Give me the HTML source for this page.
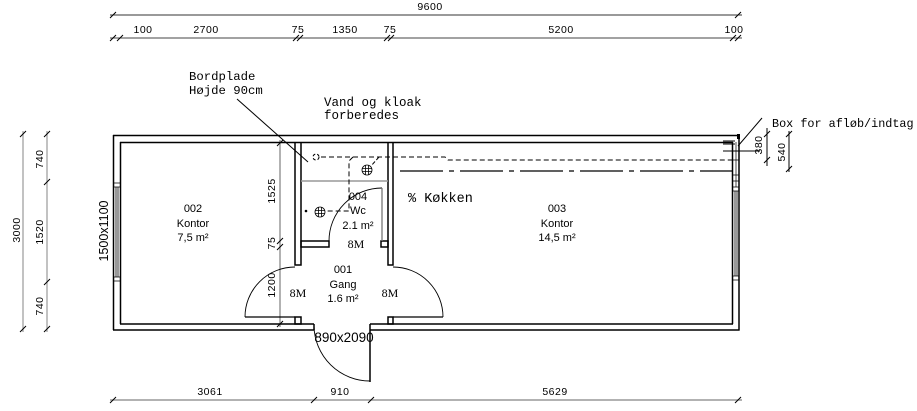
<!DOCTYPE html>
<html><head><meta charset="utf-8"><style>
html,body{margin:0;padding:0;background:#fff;}
svg{display:block;}
.s{font-family:"Liberation Sans",sans-serif;}
.m{font-family:"Liberation Mono",monospace;}
.r{font-family:"Liberation Serif",serif;}
</style></head><body>
<svg width="917" height="411" viewBox="0 0 917 411" xmlns="http://www.w3.org/2000/svg">
<g fill="none" stroke="#000" stroke-width="1">
<!-- top dims -->
<line x1="110" y1="15" x2="742" y2="15" stroke="#333"/>
<line x1="110" y1="38" x2="742" y2="38" stroke="#444"/>
<g stroke="#000">
<path d="M110,18 l6,-6 M735,18 l6,-6"/>
<path d="M110,41 l6,-6 M117,41 l6,-6 M293,41 l6,-6 M297,41 l6,-6 M384,41 l6,-6 M388,41 l6,-6 M730,41 l6,-6 M735,41 l6,-6"/>
</g>
<!-- bottom dim -->
<line x1="110" y1="400" x2="742" y2="400" stroke="#999" stroke-width="1.5"/>
<path d="M110,403 l6,-6 M311,403 l6,-6 M368,403 l6,-6 M735,403 l6,-6"/>
<!-- left dims -->
<line x1="23" y1="131" x2="23" y2="332" stroke="#999" stroke-width="1.2"/>
<line x1="47" y1="131" x2="47" y2="332" stroke="#999" stroke-width="1.2"/>
<path d="M20,137 l6,-6 M20,332 l6,-6 M44,137 l6,-6 M44,185 l6,-6 M44,285 l6,-6 M44,332 l6,-6"/>
<!-- interior dim -->
<line x1="280" y1="140" x2="280" y2="327" stroke="#999" stroke-width="1.5"/>
<path d="M277,146 l6,-6 M277,244 l6,-6 M277,250 l6,-6 M277,327 l6,-6"/>
<!-- right dims -->
<line x1="767" y1="128" x2="767" y2="166"/>
<line x1="789" y1="131" x2="789" y2="172"/>
<path d="M764,137 l6,-6 M764,163 l6,-6 M786,137 l6,-6 M786,172 l6,-6"/>
<line x1="723" y1="141" x2="735" y2="141"/>
<line x1="723" y1="144" x2="735" y2="144"/>
<line x1="723" y1="151" x2="760" y2="151"/>

<!-- outer walls -->
<g stroke-width="1.5">
<line x1="113" y1="135.5" x2="740" y2="135.5"/>
<line x1="120" y1="142.5" x2="733" y2="142.5"/>
<line x1="113.5" y1="135" x2="113.5" y2="330"/>
<line x1="120.5" y1="142" x2="120.5" y2="324"/>
<line x1="739" y1="135" x2="739" y2="330.5"/>
<line x1="732.5" y1="142" x2="732.5" y2="324"/>
<line x1="113" y1="330" x2="314" y2="330"/>
<line x1="370" y1="330" x2="739.5" y2="330"/>
<line x1="120" y1="324" x2="314" y2="324"/>
<line x1="370" y1="324" x2="733" y2="324"/>
<line x1="314" y1="324" x2="314" y2="330"/>
<line x1="370" y1="324" x2="370" y2="382"/>
</g>
<rect x="737" y="134" width="3" height="5" fill="#000" stroke="none"/>
<!-- left window -->
<path d="M113,183 H120 M113,187 H120 M113,277 H120 M113,281 H120" stroke-width="0.8"/>
<path d="M116,187 V277 M118,187 V277" stroke-width="0.8"/>
<!-- right window / box -->
<path d="M733,187 H739 M733,191 H739 M733,276 H739 M733,280 H739" stroke-width="0.8"/>
<path d="M735,191 V276 M737,191 V276" stroke-width="0.8"/>
<path d="M736,142 V187 M733,160 H739 M733,175 H739 M733,181 H739" stroke-width="0.7"/>

<!-- interior walls -->
<g stroke-width="1.5">
<path d="M295,142 V265 H301 V142"/>
<path d="M388,142 V265 H393 V142"/>
<rect x="295" y="317" width="6" height="7"/>
<rect x="388" y="317" width="5" height="7"/>
<rect x="301" y="241" width="28" height="6"/>
<rect x="381" y="241" width="7" height="6"/>
</g>
<line x1="245" y1="317" x2="295" y2="317" stroke-width="1.3"/>
<line x1="393" y1="317" x2="443" y2="317" stroke-width="1.3"/>
<path d="M245,317 A50,50 0 0 1 295,267" stroke-width="0.9"/>
<path d="M443,317 A50,50 0 0 0 393,267" stroke-width="0.9"/>
<path d="M329,241 A53,53 0 0 1 382,188" stroke-width="0.9"/>
<line x1="382" y1="188" x2="382" y2="241" stroke="#777" stroke-width="1.3"/>
<path d="M314,326 A56,56 0 0 0 370,381" stroke-width="0.9"/>
<line x1="301" y1="181" x2="388" y2="181" stroke="#999" stroke-width="1.5"/>

<!-- dashed service lines -->
<circle cx="316" cy="157" r="3" stroke-dasharray="3 2"/>
<path d="M321,157 H445 L448,160 H733" stroke-dasharray="5 3"/>
<path d="M353,157 L349,161 V211 H327" stroke-dasharray="5 3"/>
<path d="M379,157 L371,166" stroke-dasharray="4 2"/>
<path d="M400,171 H733" stroke-dasharray="43 6 5 6" stroke-width="1.2"/>
<!-- drains -->
<g stroke-width="0.8">
<circle cx="367" cy="170" r="5"/>
<path d="M362,168.5 H372 M362,171.5 H372 M365.5,165 V175 M368.5,165 V175"/>
<circle cx="320" cy="212" r="5"/>
<path d="M315,210.5 H325 M315,213.5 H325 M318.5,207 V217 M321.5,207 V217"/>
</g>
<circle cx="306" cy="211" r="0.8" fill="#000"/>
<!-- leaders -->
<line x1="237" y1="99" x2="308" y2="162"/>
<line x1="762" y1="118" x2="738" y2="146"/>
</g>

<!-- text -->
<g class="s" font-size="10.5" fill="#000" text-anchor="middle" letter-spacing="0.5">
<text x="430" y="10">9600</text>
<text x="143" y="33">100</text>
<text x="206" y="33">2700</text>
<text x="298" y="33">75</text>
<text x="345" y="33">1350</text>
<text x="390" y="33">75</text>
<text x="561" y="33">5200</text>
<text x="734" y="33">100</text>
<text x="210" y="395">3061</text>
<text x="340" y="395">910</text>
<text x="555" y="395">5629</text>
<text transform="translate(20,230) rotate(-90)">3000</text>
<text transform="translate(43,159) rotate(-90)">740</text>
<text transform="translate(43,232) rotate(-90)">1520</text>
<text transform="translate(43,306) rotate(-90)">740</text>
<text transform="translate(275,191) rotate(-90)">1525</text>
<text transform="translate(275,243) rotate(-90)">75</text>
<text transform="translate(275,285) rotate(-90)">1200</text>
<text transform="translate(762,145) rotate(-90)">380</text>
<text transform="translate(785,152) rotate(-90)">540</text>
</g>
<g class="s" font-size="12.5" text-anchor="middle" fill="#000">
<text transform="translate(108,231) rotate(-90)">1500x1100</text>
<text x="344" y="342" font-size="13.5">890x2090</text>
</g>
<g class="s" font-size="11" text-anchor="middle" fill="#000">
<text x="193" y="212">002</text>
<text x="193" y="227">Kontor</text>
<text x="193" y="241">7,5 m²</text>
<text x="557" y="212">003</text>
<text x="557" y="227">Kontor</text>
<text x="557" y="241">14,5 m²</text>
<text x="358" y="200">004</text>
<text x="358" y="214">Wc</text>
<text x="358" y="229">2.1 m²</text>
<text x="343" y="273">001</text>
<text x="343" y="288">Gang</text>
<text x="343" y="302">1.6 m²</text>
</g>
<g class="r" font-size="12" text-anchor="middle" fill="#000">
<text x="298" y="297">8M</text>
<text x="356" y="248">8M</text>
<text x="390" y="297">8M</text>
</g>
<g class="m" font-size="12.3" fill="#000">
<text x="189" y="80">Bordplade</text>
<text x="189" y="94">Højde 90cm</text>
<text x="324" y="106" font-size="12.5">Vand og kloak</text>
<text x="324" y="119" font-size="12.5">forberedes</text>
<text x="772" y="127" font-size="11.8">Box for afløb/indtag</text>
<text x="408" y="202" font-size="13.5">% Køkken</text>
</g>
</svg>
</body></html>
